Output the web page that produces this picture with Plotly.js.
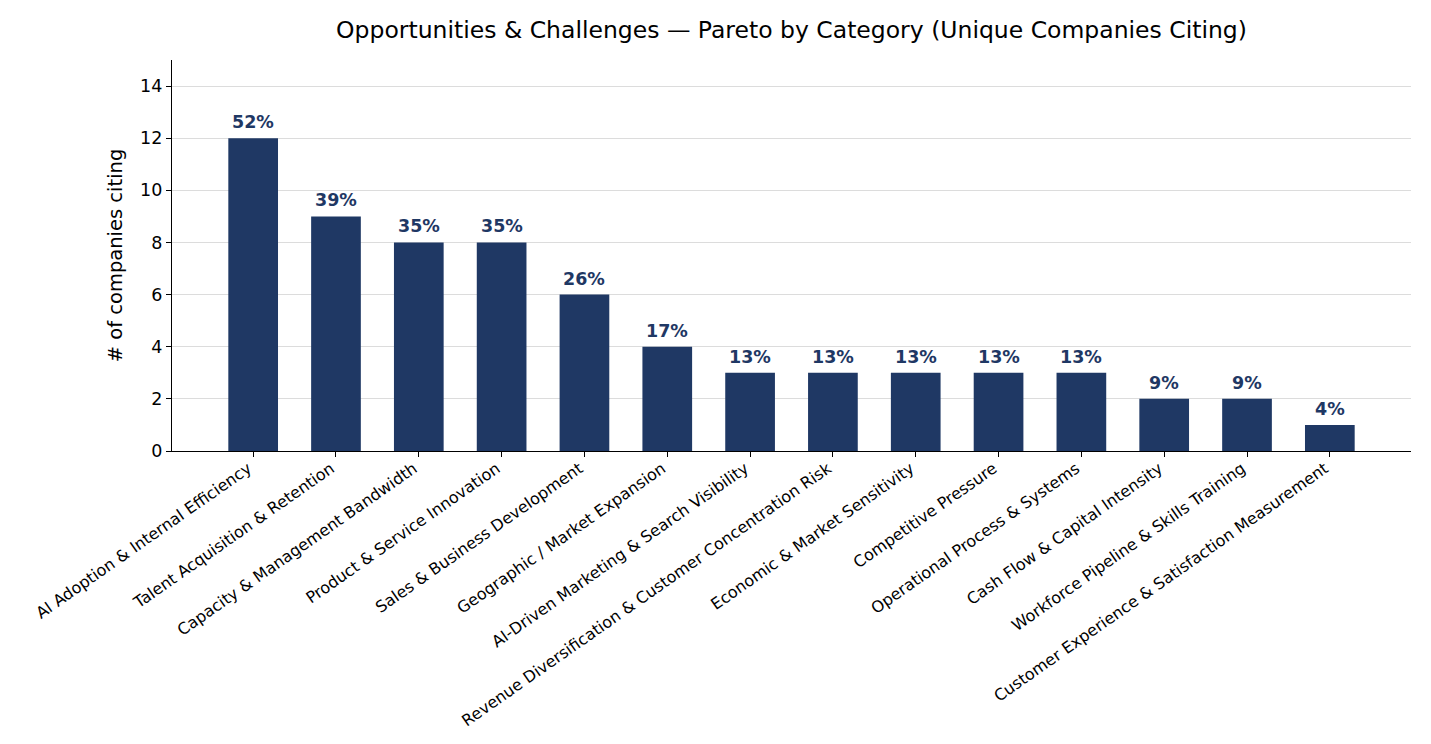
<!DOCTYPE html>
<html>
<head>
<meta charset="utf-8">
<script src="https://cdn.plot.ly/plotly-3.0.1.min.js"></script>
<style>
  html, body { margin: 0; padding: 0; background: #fff; }
  #chart { width: 1431px; height: 744px; }
</style>
</head>
<body>
<div id="chart"></div>
<script>
var categories = [
    'AI Adoption & Internal Efficiency',
    'Talent Acquisition & Retention',
    'Capacity & Management Bandwidth',
    'Product & Service Innovation',
    'Sales & Business Development',
    'Geographic / Market Expansion',
    'AI-Driven Marketing & Search Visibility',
    'Revenue Diversification & Customer Concentration Risk',
    'Economic & Market Sensitivity',
    'Competitive Pressure',
    'Operational Process & Systems',
    'Cash Flow & Capital Intensity',
    'Workforce Pipeline & Skills Training',
    'Customer Experience & Satisfaction Measurement'
];
var counts = [12, 9, 8, 8, 6, 4, 3, 3, 3, 3, 3, 2, 2, 1];
var pctLabels = ['52%', '39%', '35%', '35%', '26%', '17%', '13%', '13%', '13%', '13%', '13%', '9%', '9%', '4%'];
var yTicks = [0, 2, 4, 6, 8, 10, 12, 14];

var navy = '#1f3864';
var font = 'DejaVu Sans, sans-serif';
var positions = categories.map(function (c, i) { return i; });

var data = [{
    type: 'bar',
    x: positions,
    y: counts,
    width: 0.6,
    marker: { color: navy, line: { width: 0 } },
    hoverinfo: 'skip'
}];

// percentage labels above each bar
var annotations = positions.map(function (i) {
    return {
        x: i, y: counts[i], xref: 'x', yref: 'y',
        text: pctLabels[i], showarrow: false,
        yanchor: 'middle', yshift: 16,
        font: { family: font, size: 17.5, color: navy, weight: 'bold' }
    };
});

var layout = {
    width: 1431,
    height: 744,
    margin: { l: 172, r: 20, t: 60, b: 293 },
    paper_bgcolor: '#fff',
    plot_bgcolor: '#fff',
    showlegend: false,
    font: { family: font, color: '#000' },
    title: {
        text: 'Opportunities & Challenges — Pareto by Category (Unique Companies Citing)',
        font: { family: font, size: 23.5, color: '#000' },
        xref: 'paper', x: 0.5, xanchor: 'center', y: 0.96, yanchor: 'middle'
    },
    annotations: annotations,
    xaxis: {
        range: [-0.98, 13.98],
        tickmode: 'array',
        tickvals: positions,
        ticktext: categories,
        tickangle: -35,
        ticklabelshift: -5,
        ticklabelstandoff: -4,
        tickfont: { family: font, size: 16, color: '#000' },
        ticks: 'outside', ticklen: 5, tickcolor: '#000', tickwidth: 1,
        showline: true, linecolor: '#000', linewidth: 1.2,
        showgrid: false, zeroline: false
    },
    yaxis: {
        range: [0, 15],
        tickmode: 'array',
        tickvals: yTicks,
        tickfont: { family: font, size: 17.5, color: '#000' },
        ticks: 'outside', ticklen: 5, tickcolor: '#000', tickwidth: 1,
        showline: true, linecolor: '#000', linewidth: 1.2,
        showgrid: true, gridcolor: '#dcdcdc', gridwidth: 1,
        zeroline: false,
        title: { text: '# of companies citing', font: { family: font, size: 19.5, color: '#000' }, standoff: 12 }
    }
};

Plotly.newPlot('chart', data, layout, { displayModeBar: false, displaylogo: false });
</script>
</body>
</html>
